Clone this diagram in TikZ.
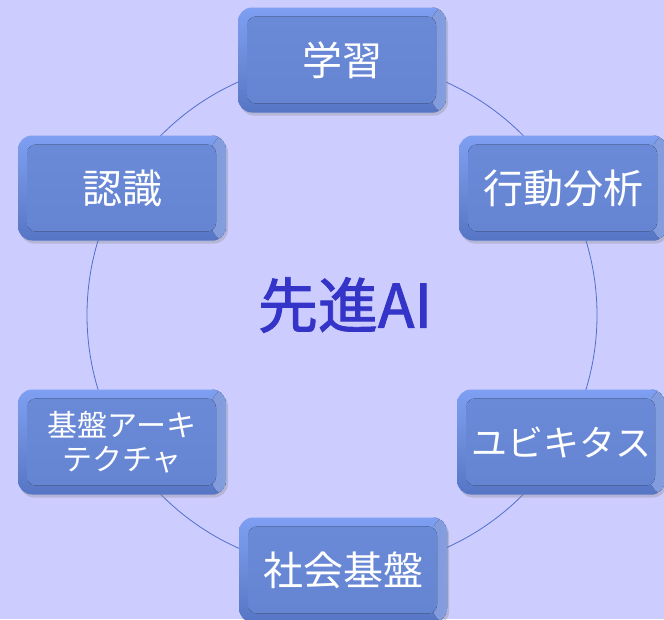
\documentclass[tikz,border=0pt]{standalone}
\usepackage{fontspec}
\newfontfamily\cjk{Noto Sans CJK JP}
\newfontfamily\cjkmed[FakeBold=1.6]{Noto Sans CJK JP}
\usetikzlibrary{shadows}
\definecolor{bgc}{HTML}{CCCCFF}
\definecolor{ringc}{HTML}{5070CC}
\definecolor{boxtop}{HTML}{7E9FF2}
\definecolor{boxmid}{HTML}{6C8CDA}
\definecolor{boxbot}{HTML}{5675C4}
\definecolor{boxin}{HTML}{6A8AD8}
\definecolor{boxinlo}{HTML}{6585D2}
\definecolor{centerc}{HTML}{3434C8}
\tikzset{
  box/.style={rounded corners=14pt, minimum width=208pt, minimum height=105pt,
    inner sep=0pt, text=white, align=center, font=\cjk\fontsize{40}{46}\selectfont,
    top color=boxtop, bottom color=boxbot, middle color=boxmid,
    drop shadow={shadow xshift=2pt, shadow yshift=-3pt, opacity=0.3, fill=black!50},
    path picture={
      \fill[left color=boxmid, right color=boxtop!85!white, opacity=0.9]
        ([xshift=-14pt]path picture bounding box.north east) rectangle (path picture bounding box.south east);
      \fill[rounded corners=9pt, top color=boxin, bottom color=boxinlo]
        ([shift={(9pt,9pt)}]path picture bounding box.south west) rectangle
        ([shift={(-10pt,-9pt)}]path picture bounding box.north east);
    }},
  ring/.style={draw=ringc, line width=0.8pt},
  centertext/.style={text=centerc, font=\cjkmed\fontsize{60}{66}\selectfont, inner sep=0pt}
}
\begin{document}
\begin{tikzpicture}[x=1pt, y=-1pt]
\fill[bgc] (0,0) rectangle (664,619);
\useasboundingbox (0,0) rectangle (664,619);
\coordinate (c) at (342,315);
\draw[ring] (c) circle[radius=255pt];
\node[centertext] (ai) at (345,305) {先進AI};
\node[box] (learn) at (342,60) {学習};
\node[box] (behav) at (563,188) {行動分析};
\node[box, font=\cjk\fontsize{36}{42}\selectfont] (ubiq) at (561,442) {ユビキタス};
\node[box] (soc) at (343,570) {社会基盤};
\node[box, font=\cjk\fontsize{30}{34}\selectfont] (arch) at (122,442) {基盤アーキ\\テクチャ};
\node[box] (recog) at (122,188) {認識};
\end{tikzpicture}
\end{document}
